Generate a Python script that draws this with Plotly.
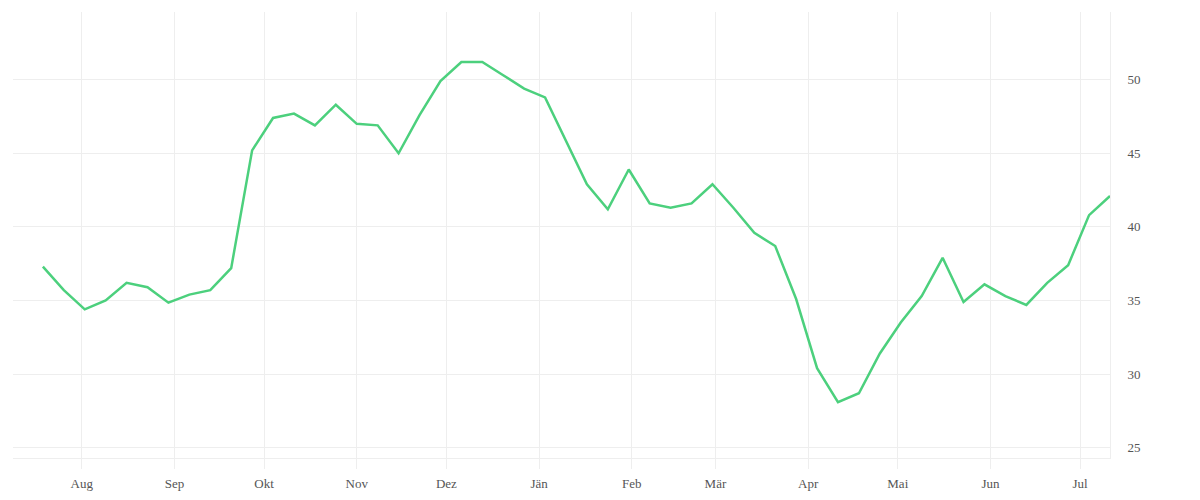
import pandas as pd
import plotly.graph_objects as go

# weekly values, starting 19 Jul 2022
start_date = "2022-07-19"
values = [
    37.3, 35.7, 34.4, 35.0, 36.2, 35.9, 34.85, 35.4, 35.7, 37.2,
    45.2, 47.4, 47.7, 46.9, 48.3, 47.0, 46.9, 45.0, 47.6, 49.9,
    51.2, 51.2, 50.3, 49.4, 48.8, 45.9, 42.9, 41.2, 43.9, 41.6,
    41.3, 41.6, 42.9, 41.3, 39.6, 38.7, 35.1, 30.4, 28.1, 28.7,
    31.4, 33.5, 35.3, 37.9, 34.9, 36.1, 35.3, 34.7, 36.2, 37.4,
    40.8, 42.1,
]
dates = pd.date_range(start_date, periods=len(values), freq="7D")

# month ticks (German / Austrian labels)
month_ticks = pd.date_range("2022-08-01", "2023-07-01", freq="MS")
month_labels = ["Aug", "Sep", "Okt", "Nov", "Dez", "Jän",
                "Feb", "Mär", "Apr", "Mai", "Jun", "Jul"]
y_ticks = [25, 30, 35, 40, 45, 50]

fig = go.Figure()
fig.add_trace(go.Scatter(
    x=dates, y=values, mode="lines",
    line=dict(color="#4cd07d", width=2.5),
    hoverinfo="x+y",
))

fig.update_layout(
    width=1200, height=500,
    margin=dict(l=5, r=98, t=4, b=50),
    plot_bgcolor="white", paper_bgcolor="white",
    showlegend=False,
    font=dict(family="Liberation Serif, DejaVu Serif, serif", size=13, color="#555"),
)
fig.update_xaxes(
    range=["2022-07-09", "2023-07-11"],
    tickvals=month_ticks, ticktext=month_labels,
    showgrid=True, gridcolor="#eeeeee", gridwidth=1,
    ticks="outside", ticklen=10, tickcolor="#eeeeee",
    ticklabelstandoff=3,
    showline=True, linecolor="#eeeeee", linewidth=1,
    zeroline=False,
)
fig.update_yaxes(
    side="right", range=[24.3, 54.6],
    tickvals=y_ticks,
    showgrid=True, gridcolor="#eeeeee", gridwidth=1,
    showline=True, linecolor="#eeeeee", linewidth=1,
    ticks="outside", ticklen=14, tickcolor="rgba(0,0,0,0)",
    zeroline=False,
)

fig.write_html("out.html")
